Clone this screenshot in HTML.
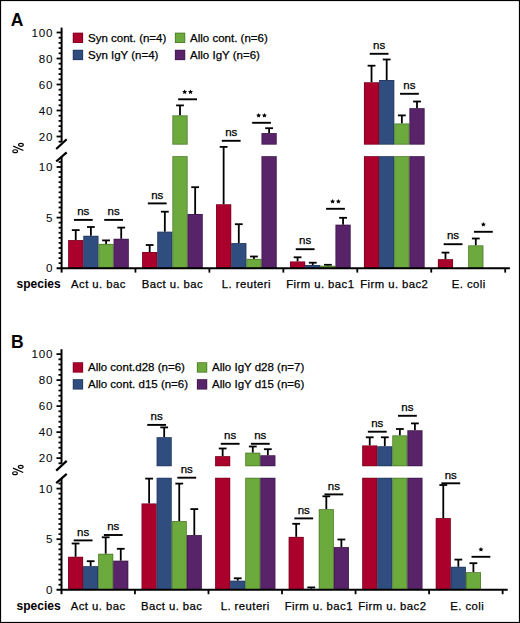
<!DOCTYPE html>
<html><head><meta charset="utf-8"><style>html,body{margin:0;padding:0;background:#fff;width:520px;height:623px;overflow:hidden}svg{display:block}text{font-family:"Liberation Sans",sans-serif;stroke:#000;stroke-width:0.25px;paint-order:stroke}text[font-weight=bold],text.ax{stroke-width:0}</style></head>
<body><svg width="520" height="623" viewBox="0 0 520 623">
<rect x="0" y="0" width="520" height="623" fill="#fff"/>
<line x1="75.73" y1="240.10" x2="75.73" y2="230.10" stroke="#000" stroke-width="1.8"/>
<line x1="71.83" y1="230.10" x2="79.63" y2="230.10" stroke="#000" stroke-width="1.8"/>
<rect x="68.15" y="240.10" width="15.16" height="28.10" fill="#ac002c"/><rect x="68.55" y="240.50" width="14.36" height="27.30" fill="none" stroke="#000" stroke-opacity="0.28" stroke-width="0.8"/>
<line x1="90.89" y1="235.80" x2="90.89" y2="227.00" stroke="#000" stroke-width="1.8"/>
<line x1="86.99" y1="227.00" x2="94.79" y2="227.00" stroke="#000" stroke-width="1.8"/>
<rect x="83.31" y="235.80" width="15.16" height="32.40" fill="#304d80"/><rect x="83.71" y="236.20" width="14.36" height="31.60" fill="none" stroke="#000" stroke-opacity="0.28" stroke-width="0.8"/>
<line x1="106.05" y1="243.90" x2="106.05" y2="240.40" stroke="#000" stroke-width="1.8"/>
<line x1="102.15" y1="240.40" x2="109.95" y2="240.40" stroke="#000" stroke-width="1.8"/>
<rect x="98.47" y="243.90" width="15.16" height="24.30" fill="#6caa3e"/><rect x="98.87" y="244.30" width="14.36" height="23.50" fill="none" stroke="#000" stroke-opacity="0.28" stroke-width="0.8"/>
<line x1="121.21" y1="238.80" x2="121.21" y2="227.60" stroke="#000" stroke-width="1.8"/>
<line x1="117.31" y1="227.60" x2="125.11" y2="227.60" stroke="#000" stroke-width="1.8"/>
<rect x="113.63" y="238.80" width="15.16" height="29.40" fill="#582369"/><rect x="114.03" y="239.20" width="14.36" height="28.60" fill="none" stroke="#000" stroke-opacity="0.28" stroke-width="0.8"/>
<line x1="73.91" y1="219.90" x2="92.71" y2="219.90" stroke="#000" stroke-width="1.9"/>
<text x="83.31" y="215.10" text-anchor="middle" font-size="11.5" font-family="Liberation Sans, sans-serif">ns</text>
<line x1="104.23" y1="219.90" x2="123.03" y2="219.90" stroke="#000" stroke-width="1.9"/>
<text x="113.63" y="215.10" text-anchor="middle" font-size="11.5" font-family="Liberation Sans, sans-serif">ns</text>
<line x1="149.68" y1="252.00" x2="149.68" y2="245.00" stroke="#000" stroke-width="1.8"/>
<line x1="145.78" y1="245.00" x2="153.58" y2="245.00" stroke="#000" stroke-width="1.8"/>
<rect x="142.10" y="252.00" width="15.16" height="16.20" fill="#ac002c"/><rect x="142.50" y="252.40" width="14.36" height="15.40" fill="none" stroke="#000" stroke-opacity="0.28" stroke-width="0.8"/>
<line x1="164.84" y1="231.70" x2="164.84" y2="211.70" stroke="#000" stroke-width="1.8"/>
<line x1="160.94" y1="211.70" x2="168.74" y2="211.70" stroke="#000" stroke-width="1.8"/>
<rect x="157.26" y="231.70" width="15.16" height="36.50" fill="#304d80"/><rect x="157.66" y="232.10" width="14.36" height="35.70" fill="none" stroke="#000" stroke-opacity="0.28" stroke-width="0.8"/>
<line x1="180.00" y1="115.40" x2="180.00" y2="105.40" stroke="#000" stroke-width="1.8"/>
<line x1="176.10" y1="105.40" x2="183.90" y2="105.40" stroke="#000" stroke-width="1.8"/>
<rect x="172.42" y="156.20" width="15.16" height="112.00" fill="#6caa3e"/><rect x="172.82" y="156.60" width="14.36" height="111.20" fill="none" stroke="#000" stroke-opacity="0.28" stroke-width="0.8"/>
<rect x="172.42" y="115.40" width="15.16" height="29.20" fill="#6caa3e"/><rect x="172.82" y="115.80" width="14.36" height="28.40" fill="none" stroke="#000" stroke-opacity="0.28" stroke-width="0.8"/>
<line x1="195.16" y1="214.00" x2="195.16" y2="187.20" stroke="#000" stroke-width="1.8"/>
<line x1="191.26" y1="187.20" x2="199.06" y2="187.20" stroke="#000" stroke-width="1.8"/>
<rect x="187.58" y="214.00" width="15.16" height="54.20" fill="#582369"/><rect x="187.98" y="214.40" width="14.36" height="53.40" fill="none" stroke="#000" stroke-opacity="0.28" stroke-width="0.8"/>
<line x1="147.86" y1="203.40" x2="166.66" y2="203.40" stroke="#000" stroke-width="1.9"/>
<text x="157.26" y="198.60" text-anchor="middle" font-size="11.5" font-family="Liberation Sans, sans-serif">ns</text>
<line x1="178.18" y1="99.30" x2="196.98" y2="99.30" stroke="#000" stroke-width="1.9"/>
<polygon points="184.68,89.40 185.41,90.99 187.15,91.20 185.87,92.39 186.21,94.10 184.68,93.25 183.15,94.10 183.49,92.39 182.21,91.20 183.95,90.99" fill="#000"/>
<polygon points="190.48,89.40 191.21,90.99 192.95,91.20 191.67,92.39 192.01,94.10 190.48,93.25 188.95,94.10 189.29,92.39 188.01,91.20 189.75,90.99" fill="#000"/>
<line x1="223.63" y1="204.30" x2="223.63" y2="146.90" stroke="#000" stroke-width="1.8"/>
<line x1="219.73" y1="146.90" x2="227.53" y2="146.90" stroke="#000" stroke-width="1.8"/>
<rect x="216.05" y="204.30" width="15.16" height="63.90" fill="#ac002c"/><rect x="216.45" y="204.70" width="14.36" height="63.10" fill="none" stroke="#000" stroke-opacity="0.28" stroke-width="0.8"/>
<line x1="238.79" y1="243.10" x2="238.79" y2="224.20" stroke="#000" stroke-width="1.8"/>
<line x1="234.89" y1="224.20" x2="242.69" y2="224.20" stroke="#000" stroke-width="1.8"/>
<rect x="231.21" y="243.10" width="15.16" height="25.10" fill="#304d80"/><rect x="231.61" y="243.50" width="14.36" height="24.30" fill="none" stroke="#000" stroke-opacity="0.28" stroke-width="0.8"/>
<line x1="253.95" y1="258.90" x2="253.95" y2="256.50" stroke="#000" stroke-width="1.8"/>
<line x1="250.05" y1="256.50" x2="257.85" y2="256.50" stroke="#000" stroke-width="1.8"/>
<rect x="246.37" y="258.90" width="15.16" height="9.30" fill="#6caa3e"/><rect x="246.77" y="259.30" width="14.36" height="8.50" fill="none" stroke="#000" stroke-opacity="0.28" stroke-width="0.8"/>
<line x1="269.11" y1="133.10" x2="269.11" y2="128.20" stroke="#000" stroke-width="1.8"/>
<line x1="265.21" y1="128.20" x2="273.01" y2="128.20" stroke="#000" stroke-width="1.8"/>
<rect x="261.53" y="156.20" width="15.16" height="112.00" fill="#582369"/><rect x="261.93" y="156.60" width="14.36" height="111.20" fill="none" stroke="#000" stroke-opacity="0.28" stroke-width="0.8"/>
<rect x="261.53" y="133.10" width="15.16" height="11.50" fill="#582369"/><rect x="261.93" y="133.50" width="14.36" height="10.70" fill="none" stroke="#000" stroke-opacity="0.28" stroke-width="0.8"/>
<line x1="221.81" y1="140.80" x2="240.61" y2="140.80" stroke="#000" stroke-width="1.9"/>
<text x="231.21" y="136.00" text-anchor="middle" font-size="11.5" font-family="Liberation Sans, sans-serif">ns</text>
<line x1="252.13" y1="122.80" x2="270.93" y2="122.80" stroke="#000" stroke-width="1.9"/>
<polygon points="258.63,112.90 259.36,114.49 261.10,114.70 259.82,115.89 260.16,117.60 258.63,116.75 257.10,117.60 257.44,115.89 256.16,114.70 257.90,114.49" fill="#000"/>
<polygon points="264.43,112.90 265.16,114.49 266.90,114.70 265.62,115.89 265.96,117.60 264.43,116.75 262.90,117.60 263.24,115.89 261.96,114.70 263.70,114.49" fill="#000"/>
<line x1="297.58" y1="261.50" x2="297.58" y2="257.30" stroke="#000" stroke-width="1.8"/>
<line x1="293.68" y1="257.30" x2="301.48" y2="257.30" stroke="#000" stroke-width="1.8"/>
<rect x="290.00" y="261.50" width="15.16" height="6.70" fill="#ac002c"/><rect x="290.40" y="261.90" width="14.36" height="5.90" fill="none" stroke="#000" stroke-opacity="0.28" stroke-width="0.8"/>
<line x1="312.74" y1="265.00" x2="312.74" y2="262.70" stroke="#000" stroke-width="1.8"/>
<line x1="308.84" y1="262.70" x2="316.64" y2="262.70" stroke="#000" stroke-width="1.8"/>
<rect x="305.16" y="265.00" width="15.16" height="3.20" fill="#304d80"/><rect x="305.56" y="265.40" width="14.36" height="2.40" fill="none" stroke="#000" stroke-opacity="0.28" stroke-width="0.8"/>
<line x1="327.90" y1="265.80" x2="327.90" y2="264.80" stroke="#000" stroke-width="1.8"/>
<line x1="324.00" y1="264.80" x2="331.80" y2="264.80" stroke="#000" stroke-width="1.8"/>
<rect x="320.32" y="265.80" width="15.16" height="2.40" fill="#6caa3e"/><rect x="320.72" y="266.20" width="14.36" height="1.60" fill="none" stroke="#000" stroke-opacity="0.28" stroke-width="0.8"/>
<line x1="343.06" y1="224.70" x2="343.06" y2="217.80" stroke="#000" stroke-width="1.8"/>
<line x1="339.16" y1="217.80" x2="346.96" y2="217.80" stroke="#000" stroke-width="1.8"/>
<rect x="335.48" y="224.70" width="15.16" height="43.50" fill="#582369"/><rect x="335.88" y="225.10" width="14.36" height="42.70" fill="none" stroke="#000" stroke-opacity="0.28" stroke-width="0.8"/>
<line x1="295.76" y1="249.20" x2="314.56" y2="249.20" stroke="#000" stroke-width="1.9"/>
<text x="305.16" y="244.40" text-anchor="middle" font-size="11.5" font-family="Liberation Sans, sans-serif">ns</text>
<line x1="326.08" y1="208.80" x2="344.88" y2="208.80" stroke="#000" stroke-width="1.9"/>
<polygon points="332.58,198.90 333.31,200.49 335.05,200.70 333.77,201.89 334.11,203.60 332.58,202.75 331.05,203.60 331.39,201.89 330.11,200.70 331.85,200.49" fill="#000"/>
<polygon points="338.38,198.90 339.11,200.49 340.85,200.70 339.57,201.89 339.91,203.60 338.38,202.75 336.85,203.60 337.19,201.89 335.91,200.70 337.65,200.49" fill="#000"/>
<line x1="371.53" y1="82.30" x2="371.53" y2="65.70" stroke="#000" stroke-width="1.8"/>
<line x1="367.63" y1="65.70" x2="375.43" y2="65.70" stroke="#000" stroke-width="1.8"/>
<rect x="363.95" y="156.20" width="15.16" height="112.00" fill="#ac002c"/><rect x="364.35" y="156.60" width="14.36" height="111.20" fill="none" stroke="#000" stroke-opacity="0.28" stroke-width="0.8"/>
<rect x="363.95" y="82.30" width="15.16" height="62.30" fill="#ac002c"/><rect x="364.35" y="82.70" width="14.36" height="61.50" fill="none" stroke="#000" stroke-opacity="0.28" stroke-width="0.8"/>
<line x1="386.69" y1="80.00" x2="386.69" y2="59.50" stroke="#000" stroke-width="1.8"/>
<line x1="382.79" y1="59.50" x2="390.59" y2="59.50" stroke="#000" stroke-width="1.8"/>
<rect x="379.11" y="156.20" width="15.16" height="112.00" fill="#304d80"/><rect x="379.51" y="156.60" width="14.36" height="111.20" fill="none" stroke="#000" stroke-opacity="0.28" stroke-width="0.8"/>
<rect x="379.11" y="80.00" width="15.16" height="64.60" fill="#304d80"/><rect x="379.51" y="80.40" width="14.36" height="63.80" fill="none" stroke="#000" stroke-opacity="0.28" stroke-width="0.8"/>
<line x1="401.85" y1="123.50" x2="401.85" y2="115.40" stroke="#000" stroke-width="1.8"/>
<line x1="397.95" y1="115.40" x2="405.75" y2="115.40" stroke="#000" stroke-width="1.8"/>
<rect x="394.27" y="156.20" width="15.16" height="112.00" fill="#6caa3e"/><rect x="394.67" y="156.60" width="14.36" height="111.20" fill="none" stroke="#000" stroke-opacity="0.28" stroke-width="0.8"/>
<rect x="394.27" y="123.50" width="15.16" height="21.10" fill="#6caa3e"/><rect x="394.67" y="123.90" width="14.36" height="20.30" fill="none" stroke="#000" stroke-opacity="0.28" stroke-width="0.8"/>
<line x1="417.01" y1="108.20" x2="417.01" y2="101.50" stroke="#000" stroke-width="1.8"/>
<line x1="413.11" y1="101.50" x2="420.91" y2="101.50" stroke="#000" stroke-width="1.8"/>
<rect x="409.43" y="156.20" width="15.16" height="112.00" fill="#582369"/><rect x="409.83" y="156.60" width="14.36" height="111.20" fill="none" stroke="#000" stroke-opacity="0.28" stroke-width="0.8"/>
<rect x="409.43" y="108.20" width="15.16" height="36.40" fill="#582369"/><rect x="409.83" y="108.60" width="14.36" height="35.60" fill="none" stroke="#000" stroke-opacity="0.28" stroke-width="0.8"/>
<line x1="369.71" y1="53.80" x2="388.51" y2="53.80" stroke="#000" stroke-width="1.9"/>
<text x="379.11" y="49.00" text-anchor="middle" font-size="11.5" font-family="Liberation Sans, sans-serif">ns</text>
<line x1="400.03" y1="93.80" x2="418.83" y2="93.80" stroke="#000" stroke-width="1.9"/>
<text x="409.43" y="89.00" text-anchor="middle" font-size="11.5" font-family="Liberation Sans, sans-serif">ns</text>
<line x1="445.48" y1="259.20" x2="445.48" y2="252.60" stroke="#000" stroke-width="1.8"/>
<line x1="441.58" y1="252.60" x2="449.38" y2="252.60" stroke="#000" stroke-width="1.8"/>
<rect x="437.90" y="259.20" width="15.16" height="9.00" fill="#ac002c"/><rect x="438.30" y="259.60" width="14.36" height="8.20" fill="none" stroke="#000" stroke-opacity="0.28" stroke-width="0.8"/>
<line x1="475.80" y1="245.40" x2="475.80" y2="238.50" stroke="#000" stroke-width="1.8"/>
<line x1="471.90" y1="238.50" x2="479.70" y2="238.50" stroke="#000" stroke-width="1.8"/>
<rect x="468.22" y="245.40" width="15.16" height="22.80" fill="#6caa3e"/><rect x="468.62" y="245.80" width="14.36" height="22.00" fill="none" stroke="#000" stroke-opacity="0.28" stroke-width="0.8"/>
<line x1="443.66" y1="244.20" x2="462.46" y2="244.20" stroke="#000" stroke-width="1.9"/>
<text x="453.06" y="239.40" text-anchor="middle" font-size="11.5" font-family="Liberation Sans, sans-serif">ns</text>
<line x1="473.98" y1="231.80" x2="492.78" y2="231.80" stroke="#000" stroke-width="1.9"/>
<polygon points="483.38,221.90 484.11,223.49 485.85,223.70 484.57,224.89 484.91,226.60 483.38,225.75 481.85,226.60 482.19,224.89 480.91,223.70 482.65,223.49" fill="#000"/>
<line x1="61.6" y1="27.6" x2="61.6" y2="142.2" stroke="#000" stroke-width="2.0"/>
<line x1="61.6" y1="156.8" x2="61.6" y2="272.59999999999997" stroke="#000" stroke-width="2.0"/>
<line x1="56.6" y1="268.2" x2="509.9" y2="268.2" stroke="#000" stroke-width="2.0"/>
<line x1="135.45" y1="268.2" x2="135.45" y2="272.59999999999997" stroke="#000" stroke-width="1.8"/>
<line x1="209.40" y1="268.2" x2="209.40" y2="272.59999999999997" stroke="#000" stroke-width="1.8"/>
<line x1="283.35" y1="268.2" x2="283.35" y2="272.59999999999997" stroke="#000" stroke-width="1.8"/>
<line x1="357.30" y1="268.2" x2="357.30" y2="272.59999999999997" stroke="#000" stroke-width="1.8"/>
<line x1="431.25" y1="268.2" x2="431.25" y2="272.59999999999997" stroke="#000" stroke-width="1.8"/>
<line x1="505.20" y1="268.2" x2="505.20" y2="272.59999999999997" stroke="#000" stroke-width="1.8"/>
<line x1="58.6" y1="141.70" x2="61.6" y2="141.70" stroke="#000" stroke-width="1.8"/>
<line x1="56.6" y1="136.50" x2="61.6" y2="136.50" stroke="#000" stroke-width="1.8"/>
<text x="53.3" y="140.70" text-anchor="end" font-size="11.6" letter-spacing="0.8" class="ax" font-family="Liberation Sans, sans-serif">20</text>
<line x1="58.6" y1="131.30" x2="61.6" y2="131.30" stroke="#000" stroke-width="1.8"/>
<line x1="58.6" y1="126.10" x2="61.6" y2="126.10" stroke="#000" stroke-width="1.8"/>
<line x1="58.6" y1="120.90" x2="61.6" y2="120.90" stroke="#000" stroke-width="1.8"/>
<line x1="58.6" y1="115.70" x2="61.6" y2="115.70" stroke="#000" stroke-width="1.8"/>
<line x1="56.6" y1="110.50" x2="61.6" y2="110.50" stroke="#000" stroke-width="1.8"/>
<text x="53.3" y="114.70" text-anchor="end" font-size="11.6" letter-spacing="0.8" class="ax" font-family="Liberation Sans, sans-serif">40</text>
<line x1="58.6" y1="105.30" x2="61.6" y2="105.30" stroke="#000" stroke-width="1.8"/>
<line x1="58.6" y1="100.10" x2="61.6" y2="100.10" stroke="#000" stroke-width="1.8"/>
<line x1="58.6" y1="94.90" x2="61.6" y2="94.90" stroke="#000" stroke-width="1.8"/>
<line x1="58.6" y1="89.70" x2="61.6" y2="89.70" stroke="#000" stroke-width="1.8"/>
<line x1="56.6" y1="84.50" x2="61.6" y2="84.50" stroke="#000" stroke-width="1.8"/>
<text x="53.3" y="88.70" text-anchor="end" font-size="11.6" letter-spacing="0.8" class="ax" font-family="Liberation Sans, sans-serif">60</text>
<line x1="58.6" y1="79.30" x2="61.6" y2="79.30" stroke="#000" stroke-width="1.8"/>
<line x1="58.6" y1="74.10" x2="61.6" y2="74.10" stroke="#000" stroke-width="1.8"/>
<line x1="58.6" y1="68.90" x2="61.6" y2="68.90" stroke="#000" stroke-width="1.8"/>
<line x1="58.6" y1="63.70" x2="61.6" y2="63.70" stroke="#000" stroke-width="1.8"/>
<line x1="56.6" y1="58.50" x2="61.6" y2="58.50" stroke="#000" stroke-width="1.8"/>
<text x="53.3" y="62.70" text-anchor="end" font-size="11.6" letter-spacing="0.8" class="ax" font-family="Liberation Sans, sans-serif">80</text>
<line x1="58.6" y1="53.30" x2="61.6" y2="53.30" stroke="#000" stroke-width="1.8"/>
<line x1="58.6" y1="48.10" x2="61.6" y2="48.10" stroke="#000" stroke-width="1.8"/>
<line x1="58.6" y1="42.90" x2="61.6" y2="42.90" stroke="#000" stroke-width="1.8"/>
<line x1="58.6" y1="37.70" x2="61.6" y2="37.70" stroke="#000" stroke-width="1.8"/>
<line x1="56.6" y1="32.50" x2="61.6" y2="32.50" stroke="#000" stroke-width="1.8"/>
<text x="53.3" y="36.70" text-anchor="end" font-size="11.6" letter-spacing="0.8" class="ax" font-family="Liberation Sans, sans-serif">100</text>
<line x1="58.6" y1="263.14" x2="61.6" y2="263.14" stroke="#000" stroke-width="1.8"/>
<line x1="58.6" y1="258.08" x2="61.6" y2="258.08" stroke="#000" stroke-width="1.8"/>
<line x1="58.6" y1="253.02" x2="61.6" y2="253.02" stroke="#000" stroke-width="1.8"/>
<line x1="58.6" y1="247.96" x2="61.6" y2="247.96" stroke="#000" stroke-width="1.8"/>
<line x1="58.6" y1="242.90" x2="61.6" y2="242.90" stroke="#000" stroke-width="1.8"/>
<line x1="58.6" y1="237.84" x2="61.6" y2="237.84" stroke="#000" stroke-width="1.8"/>
<line x1="58.6" y1="232.78" x2="61.6" y2="232.78" stroke="#000" stroke-width="1.8"/>
<line x1="58.6" y1="227.72" x2="61.6" y2="227.72" stroke="#000" stroke-width="1.8"/>
<line x1="58.6" y1="222.66" x2="61.6" y2="222.66" stroke="#000" stroke-width="1.8"/>
<line x1="56.6" y1="217.60" x2="61.6" y2="217.60" stroke="#000" stroke-width="1.8"/>
<text x="53.3" y="221.80" text-anchor="end" font-size="11.6" letter-spacing="0.8" class="ax" font-family="Liberation Sans, sans-serif">5</text>
<line x1="58.6" y1="212.54" x2="61.6" y2="212.54" stroke="#000" stroke-width="1.8"/>
<line x1="58.6" y1="207.48" x2="61.6" y2="207.48" stroke="#000" stroke-width="1.8"/>
<line x1="58.6" y1="202.42" x2="61.6" y2="202.42" stroke="#000" stroke-width="1.8"/>
<line x1="58.6" y1="197.36" x2="61.6" y2="197.36" stroke="#000" stroke-width="1.8"/>
<line x1="58.6" y1="192.30" x2="61.6" y2="192.30" stroke="#000" stroke-width="1.8"/>
<line x1="58.6" y1="187.24" x2="61.6" y2="187.24" stroke="#000" stroke-width="1.8"/>
<line x1="58.6" y1="182.18" x2="61.6" y2="182.18" stroke="#000" stroke-width="1.8"/>
<line x1="58.6" y1="177.12" x2="61.6" y2="177.12" stroke="#000" stroke-width="1.8"/>
<line x1="58.6" y1="172.06" x2="61.6" y2="172.06" stroke="#000" stroke-width="1.8"/>
<line x1="56.6" y1="167.00" x2="61.6" y2="167.00" stroke="#000" stroke-width="1.8"/>
<text x="53.3" y="171.20" text-anchor="end" font-size="11.6" letter-spacing="0.8" class="ax" font-family="Liberation Sans, sans-serif">10</text>
<line x1="58.6" y1="161.94" x2="61.6" y2="161.94" stroke="#000" stroke-width="1.8"/>
<text x="53.3" y="272.40" text-anchor="end" font-size="11.6" letter-spacing="0.8" class="ax" font-family="Liberation Sans, sans-serif">0</text>
<line x1="56.2" y1="149.0" x2="66.7" y2="139.3" stroke="#000" stroke-width="2.2"/>
<line x1="56.2" y1="161.5" x2="66.7" y2="152.3" stroke="#000" stroke-width="2.2"/>
<g fill="none" stroke="#000" stroke-width="1.15"><ellipse cx="20.95" cy="144.85" rx="2.35" ry="1.45"/><ellipse cx="15.20" cy="151.20" rx="2.35" ry="1.45"/><line x1="13.20" y1="146.10" x2="23.40" y2="150.50"/></g>
<text x="10.7" y="26.2" font-size="17.5" font-weight="bold" font-family="Liberation Sans, sans-serif">A</text>
<text x="16.6" y="288.2" font-size="12" font-weight="bold" font-family="Liberation Sans, sans-serif">species</text>
<text x="98.47" y="288.2" text-anchor="middle" font-size="11.3" letter-spacing="0.45" font-family="Liberation Sans, sans-serif">Act u. bac</text>
<text x="172.42" y="288.2" text-anchor="middle" font-size="11.3" letter-spacing="0.45" font-family="Liberation Sans, sans-serif">Bact u. bac</text>
<text x="246.38" y="288.2" text-anchor="middle" font-size="11.3" letter-spacing="0.45" font-family="Liberation Sans, sans-serif">L. reuteri</text>
<text x="320.33" y="288.2" text-anchor="middle" font-size="11.3" letter-spacing="0.45" font-family="Liberation Sans, sans-serif">Firm u. bac1</text>
<text x="394.28" y="288.2" text-anchor="middle" font-size="11.3" letter-spacing="0.45" font-family="Liberation Sans, sans-serif">Firm u. bac2</text>
<text x="468.83" y="288.2" text-anchor="middle" font-size="11.3" letter-spacing="0.45" font-family="Liberation Sans, sans-serif">E. coli</text>
<rect x="72.80" y="32.70" width="10.30" height="10.30" fill="#ac002c"/><rect x="73.20" y="33.10" width="9.50" height="9.50" fill="none" stroke="#000" stroke-opacity="0.28" stroke-width="0.8"/>
<text x="88.0" y="42.0" font-size="11.5" font-family="Liberation Sans, sans-serif">Syn cont. (n=4)</text>
<rect x="72.80" y="49.80" width="10.30" height="10.30" fill="#304d80"/><rect x="73.20" y="50.20" width="9.50" height="9.50" fill="none" stroke="#000" stroke-opacity="0.28" stroke-width="0.8"/>
<text x="88.0" y="59.099999999999994" font-size="11.5" font-family="Liberation Sans, sans-serif">Syn IgY (n=4)</text>
<rect x="174.90" y="32.70" width="10.30" height="10.30" fill="#6caa3e"/><rect x="175.30" y="33.10" width="9.50" height="9.50" fill="none" stroke="#000" stroke-opacity="0.28" stroke-width="0.8"/>
<text x="190.1" y="42.0" font-size="11.5" font-family="Liberation Sans, sans-serif">Allo cont. (n=6)</text>
<rect x="174.90" y="49.80" width="10.30" height="10.30" fill="#582369"/><rect x="175.30" y="50.20" width="9.50" height="9.50" fill="none" stroke="#000" stroke-opacity="0.28" stroke-width="0.8"/>
<text x="190.1" y="59.099999999999994" font-size="11.5" font-family="Liberation Sans, sans-serif">Allo IgY (n=6)</text>
<line x1="75.58" y1="556.80" x2="75.58" y2="543.50" stroke="#000" stroke-width="1.8"/>
<line x1="71.68" y1="543.50" x2="79.48" y2="543.50" stroke="#000" stroke-width="1.8"/>
<rect x="68.05" y="556.80" width="15.06" height="33.00" fill="#ac002c"/><rect x="68.45" y="557.20" width="14.26" height="32.20" fill="none" stroke="#000" stroke-opacity="0.28" stroke-width="0.8"/>
<line x1="90.64" y1="566.20" x2="90.64" y2="561.20" stroke="#000" stroke-width="1.8"/>
<line x1="86.74" y1="561.20" x2="94.54" y2="561.20" stroke="#000" stroke-width="1.8"/>
<rect x="83.11" y="566.20" width="15.06" height="23.60" fill="#304d80"/><rect x="83.51" y="566.60" width="14.26" height="22.80" fill="none" stroke="#000" stroke-opacity="0.28" stroke-width="0.8"/>
<line x1="105.70" y1="553.80" x2="105.70" y2="537.30" stroke="#000" stroke-width="1.8"/>
<line x1="101.80" y1="537.30" x2="109.60" y2="537.30" stroke="#000" stroke-width="1.8"/>
<rect x="98.17" y="553.80" width="15.06" height="36.00" fill="#6caa3e"/><rect x="98.57" y="554.20" width="14.26" height="35.20" fill="none" stroke="#000" stroke-opacity="0.28" stroke-width="0.8"/>
<line x1="120.76" y1="560.70" x2="120.76" y2="548.80" stroke="#000" stroke-width="1.8"/>
<line x1="116.86" y1="548.80" x2="124.66" y2="548.80" stroke="#000" stroke-width="1.8"/>
<rect x="113.23" y="560.70" width="15.06" height="29.10" fill="#582369"/><rect x="113.63" y="561.10" width="14.26" height="28.30" fill="none" stroke="#000" stroke-opacity="0.28" stroke-width="0.8"/>
<line x1="73.71" y1="540.40" x2="92.51" y2="540.40" stroke="#000" stroke-width="1.9"/>
<text x="83.11" y="535.60" text-anchor="middle" font-size="11.5" font-family="Liberation Sans, sans-serif">ns</text>
<line x1="103.83" y1="535.00" x2="122.63" y2="535.00" stroke="#000" stroke-width="1.9"/>
<text x="113.23" y="530.20" text-anchor="middle" font-size="11.5" font-family="Liberation Sans, sans-serif">ns</text>
<line x1="149.12" y1="503.50" x2="149.12" y2="478.60" stroke="#000" stroke-width="1.8"/>
<line x1="145.22" y1="478.60" x2="153.02" y2="478.60" stroke="#000" stroke-width="1.8"/>
<rect x="141.59" y="503.50" width="15.06" height="86.30" fill="#ac002c"/><rect x="141.99" y="503.90" width="14.26" height="85.50" fill="none" stroke="#000" stroke-opacity="0.28" stroke-width="0.8"/>
<line x1="164.18" y1="437.20" x2="164.18" y2="427.40" stroke="#000" stroke-width="1.8"/>
<line x1="160.28" y1="427.40" x2="168.08" y2="427.40" stroke="#000" stroke-width="1.8"/>
<rect x="156.65" y="477.80" width="15.06" height="112.00" fill="#304d80"/><rect x="157.05" y="478.20" width="14.26" height="111.20" fill="none" stroke="#000" stroke-opacity="0.28" stroke-width="0.8"/>
<rect x="156.65" y="437.20" width="15.06" height="29.00" fill="#304d80"/><rect x="157.05" y="437.60" width="14.26" height="28.20" fill="none" stroke="#000" stroke-opacity="0.28" stroke-width="0.8"/>
<line x1="179.24" y1="521.10" x2="179.24" y2="483.60" stroke="#000" stroke-width="1.8"/>
<line x1="175.34" y1="483.60" x2="183.14" y2="483.60" stroke="#000" stroke-width="1.8"/>
<rect x="171.71" y="521.10" width="15.06" height="68.70" fill="#6caa3e"/><rect x="172.11" y="521.50" width="14.26" height="67.90" fill="none" stroke="#000" stroke-opacity="0.28" stroke-width="0.8"/>
<line x1="194.30" y1="535.10" x2="194.30" y2="509.10" stroke="#000" stroke-width="1.8"/>
<line x1="190.40" y1="509.10" x2="198.20" y2="509.10" stroke="#000" stroke-width="1.8"/>
<rect x="186.77" y="535.10" width="15.06" height="54.70" fill="#582369"/><rect x="187.17" y="535.50" width="14.26" height="53.90" fill="none" stroke="#000" stroke-opacity="0.28" stroke-width="0.8"/>
<line x1="147.25" y1="424.90" x2="166.05" y2="424.90" stroke="#000" stroke-width="1.9"/>
<text x="156.65" y="420.10" text-anchor="middle" font-size="11.5" font-family="Liberation Sans, sans-serif">ns</text>
<line x1="177.37" y1="477.70" x2="196.17" y2="477.70" stroke="#000" stroke-width="1.9"/>
<text x="186.77" y="472.90" text-anchor="middle" font-size="11.5" font-family="Liberation Sans, sans-serif">ns</text>
<line x1="222.66" y1="456.20" x2="222.66" y2="448.50" stroke="#000" stroke-width="1.8"/>
<line x1="218.76" y1="448.50" x2="226.56" y2="448.50" stroke="#000" stroke-width="1.8"/>
<rect x="215.13" y="477.80" width="15.06" height="112.00" fill="#ac002c"/><rect x="215.53" y="478.20" width="14.26" height="111.20" fill="none" stroke="#000" stroke-opacity="0.28" stroke-width="0.8"/>
<rect x="215.13" y="456.20" width="15.06" height="10.00" fill="#ac002c"/><rect x="215.53" y="456.60" width="14.26" height="9.20" fill="none" stroke="#000" stroke-opacity="0.28" stroke-width="0.8"/>
<line x1="237.72" y1="580.70" x2="237.72" y2="578.30" stroke="#000" stroke-width="1.8"/>
<line x1="233.82" y1="578.30" x2="241.62" y2="578.30" stroke="#000" stroke-width="1.8"/>
<rect x="230.19" y="580.70" width="15.06" height="9.10" fill="#304d80"/><rect x="230.59" y="581.10" width="14.26" height="8.30" fill="none" stroke="#000" stroke-opacity="0.28" stroke-width="0.8"/>
<line x1="252.78" y1="452.70" x2="252.78" y2="446.50" stroke="#000" stroke-width="1.8"/>
<line x1="248.88" y1="446.50" x2="256.68" y2="446.50" stroke="#000" stroke-width="1.8"/>
<rect x="245.25" y="477.80" width="15.06" height="112.00" fill="#6caa3e"/><rect x="245.65" y="478.20" width="14.26" height="111.20" fill="none" stroke="#000" stroke-opacity="0.28" stroke-width="0.8"/>
<rect x="245.25" y="452.70" width="15.06" height="13.50" fill="#6caa3e"/><rect x="245.65" y="453.10" width="14.26" height="12.70" fill="none" stroke="#000" stroke-opacity="0.28" stroke-width="0.8"/>
<line x1="267.84" y1="455.30" x2="267.84" y2="449.20" stroke="#000" stroke-width="1.8"/>
<line x1="263.94" y1="449.20" x2="271.74" y2="449.20" stroke="#000" stroke-width="1.8"/>
<rect x="260.31" y="477.80" width="15.06" height="112.00" fill="#582369"/><rect x="260.71" y="478.20" width="14.26" height="111.20" fill="none" stroke="#000" stroke-opacity="0.28" stroke-width="0.8"/>
<rect x="260.31" y="455.30" width="15.06" height="10.90" fill="#582369"/><rect x="260.71" y="455.70" width="14.26" height="10.10" fill="none" stroke="#000" stroke-opacity="0.28" stroke-width="0.8"/>
<line x1="220.79" y1="443.80" x2="239.59" y2="443.80" stroke="#000" stroke-width="1.9"/>
<text x="230.19" y="439.00" text-anchor="middle" font-size="11.5" font-family="Liberation Sans, sans-serif">ns</text>
<line x1="250.91" y1="443.80" x2="269.71" y2="443.80" stroke="#000" stroke-width="1.9"/>
<text x="260.31" y="439.00" text-anchor="middle" font-size="11.5" font-family="Liberation Sans, sans-serif">ns</text>
<line x1="296.20" y1="536.90" x2="296.20" y2="523.80" stroke="#000" stroke-width="1.8"/>
<line x1="292.30" y1="523.80" x2="300.10" y2="523.80" stroke="#000" stroke-width="1.8"/>
<rect x="288.67" y="536.90" width="15.06" height="52.90" fill="#ac002c"/><rect x="289.07" y="537.30" width="14.26" height="52.10" fill="none" stroke="#000" stroke-opacity="0.28" stroke-width="0.8"/>
<line x1="311.26" y1="588.80" x2="311.26" y2="587.40" stroke="#000" stroke-width="1.8"/>
<line x1="307.36" y1="587.40" x2="315.16" y2="587.40" stroke="#000" stroke-width="1.8"/>
<rect x="303.73" y="588.80" width="15.06" height="1.00" fill="#304d80"/>
<line x1="326.32" y1="509.20" x2="326.32" y2="496.30" stroke="#000" stroke-width="1.8"/>
<line x1="322.42" y1="496.30" x2="330.22" y2="496.30" stroke="#000" stroke-width="1.8"/>
<rect x="318.79" y="509.20" width="15.06" height="80.60" fill="#6caa3e"/><rect x="319.19" y="509.60" width="14.26" height="79.80" fill="none" stroke="#000" stroke-opacity="0.28" stroke-width="0.8"/>
<line x1="341.38" y1="547.10" x2="341.38" y2="539.50" stroke="#000" stroke-width="1.8"/>
<line x1="337.48" y1="539.50" x2="345.28" y2="539.50" stroke="#000" stroke-width="1.8"/>
<rect x="333.85" y="547.10" width="15.06" height="42.70" fill="#582369"/><rect x="334.25" y="547.50" width="14.26" height="41.90" fill="none" stroke="#000" stroke-opacity="0.28" stroke-width="0.8"/>
<line x1="294.33" y1="518.40" x2="313.13" y2="518.40" stroke="#000" stroke-width="1.9"/>
<text x="303.73" y="513.60" text-anchor="middle" font-size="11.5" font-family="Liberation Sans, sans-serif">ns</text>
<line x1="324.45" y1="494.40" x2="343.25" y2="494.40" stroke="#000" stroke-width="1.9"/>
<text x="333.85" y="489.60" text-anchor="middle" font-size="11.5" font-family="Liberation Sans, sans-serif">ns</text>
<line x1="369.74" y1="445.50" x2="369.74" y2="437.30" stroke="#000" stroke-width="1.8"/>
<line x1="365.84" y1="437.30" x2="373.64" y2="437.30" stroke="#000" stroke-width="1.8"/>
<rect x="362.21" y="477.80" width="15.06" height="112.00" fill="#ac002c"/><rect x="362.61" y="478.20" width="14.26" height="111.20" fill="none" stroke="#000" stroke-opacity="0.28" stroke-width="0.8"/>
<rect x="362.21" y="445.50" width="15.06" height="20.70" fill="#ac002c"/><rect x="362.61" y="445.90" width="14.26" height="19.90" fill="none" stroke="#000" stroke-opacity="0.28" stroke-width="0.8"/>
<line x1="384.80" y1="446.30" x2="384.80" y2="437.30" stroke="#000" stroke-width="1.8"/>
<line x1="380.90" y1="437.30" x2="388.70" y2="437.30" stroke="#000" stroke-width="1.8"/>
<rect x="377.27" y="477.80" width="15.06" height="112.00" fill="#304d80"/><rect x="377.67" y="478.20" width="14.26" height="111.20" fill="none" stroke="#000" stroke-opacity="0.28" stroke-width="0.8"/>
<rect x="377.27" y="446.30" width="15.06" height="19.90" fill="#304d80"/><rect x="377.67" y="446.70" width="14.26" height="19.10" fill="none" stroke="#000" stroke-opacity="0.28" stroke-width="0.8"/>
<line x1="399.86" y1="435.40" x2="399.86" y2="429.00" stroke="#000" stroke-width="1.8"/>
<line x1="395.96" y1="429.00" x2="403.76" y2="429.00" stroke="#000" stroke-width="1.8"/>
<rect x="392.33" y="477.80" width="15.06" height="112.00" fill="#6caa3e"/><rect x="392.73" y="478.20" width="14.26" height="111.20" fill="none" stroke="#000" stroke-opacity="0.28" stroke-width="0.8"/>
<rect x="392.33" y="435.40" width="15.06" height="30.80" fill="#6caa3e"/><rect x="392.73" y="435.80" width="14.26" height="30.00" fill="none" stroke="#000" stroke-opacity="0.28" stroke-width="0.8"/>
<line x1="414.92" y1="430.30" x2="414.92" y2="423.40" stroke="#000" stroke-width="1.8"/>
<line x1="411.02" y1="423.40" x2="418.82" y2="423.40" stroke="#000" stroke-width="1.8"/>
<rect x="407.39" y="477.80" width="15.06" height="112.00" fill="#582369"/><rect x="407.79" y="478.20" width="14.26" height="111.20" fill="none" stroke="#000" stroke-opacity="0.28" stroke-width="0.8"/>
<rect x="407.39" y="430.30" width="15.06" height="35.90" fill="#582369"/><rect x="407.79" y="430.70" width="14.26" height="35.10" fill="none" stroke="#000" stroke-opacity="0.28" stroke-width="0.8"/>
<line x1="367.87" y1="431.70" x2="386.67" y2="431.70" stroke="#000" stroke-width="1.9"/>
<text x="377.27" y="426.90" text-anchor="middle" font-size="11.5" font-family="Liberation Sans, sans-serif">ns</text>
<line x1="397.99" y1="415.80" x2="416.79" y2="415.80" stroke="#000" stroke-width="1.9"/>
<text x="407.39" y="411.00" text-anchor="middle" font-size="11.5" font-family="Liberation Sans, sans-serif">ns</text>
<line x1="443.28" y1="518.10" x2="443.28" y2="485.00" stroke="#000" stroke-width="1.8"/>
<line x1="439.38" y1="485.00" x2="447.18" y2="485.00" stroke="#000" stroke-width="1.8"/>
<rect x="435.75" y="518.10" width="15.06" height="71.70" fill="#ac002c"/><rect x="436.15" y="518.50" width="14.26" height="70.90" fill="none" stroke="#000" stroke-opacity="0.28" stroke-width="0.8"/>
<line x1="458.34" y1="566.80" x2="458.34" y2="559.60" stroke="#000" stroke-width="1.8"/>
<line x1="454.44" y1="559.60" x2="462.24" y2="559.60" stroke="#000" stroke-width="1.8"/>
<rect x="450.81" y="566.80" width="15.06" height="23.00" fill="#304d80"/><rect x="451.21" y="567.20" width="14.26" height="22.20" fill="none" stroke="#000" stroke-opacity="0.28" stroke-width="0.8"/>
<line x1="473.40" y1="572.20" x2="473.40" y2="563.20" stroke="#000" stroke-width="1.8"/>
<line x1="469.50" y1="563.20" x2="477.30" y2="563.20" stroke="#000" stroke-width="1.8"/>
<rect x="465.87" y="572.20" width="15.06" height="17.60" fill="#6caa3e"/><rect x="466.27" y="572.60" width="14.26" height="16.80" fill="none" stroke="#000" stroke-opacity="0.28" stroke-width="0.8"/>
<line x1="441.41" y1="483.30" x2="460.21" y2="483.30" stroke="#000" stroke-width="1.9"/>
<text x="450.81" y="478.50" text-anchor="middle" font-size="11.5" font-family="Liberation Sans, sans-serif">ns</text>
<line x1="471.53" y1="556.80" x2="490.33" y2="556.80" stroke="#000" stroke-width="1.9"/>
<polygon points="480.93,546.90 481.66,548.49 483.40,548.70 482.12,549.89 482.46,551.60 480.93,550.75 479.40,551.60 479.74,549.89 478.46,548.70 480.20,548.49" fill="#000"/>
<line x1="61.5" y1="349.20000000000005" x2="61.5" y2="463.8" stroke="#000" stroke-width="2.0"/>
<line x1="61.5" y1="478.40000000000003" x2="61.5" y2="594.1999999999999" stroke="#000" stroke-width="2.0"/>
<line x1="56.5" y1="589.8" x2="507.7" y2="589.8" stroke="#000" stroke-width="2.0"/>
<line x1="134.94" y1="589.8" x2="134.94" y2="594.1999999999999" stroke="#000" stroke-width="1.8"/>
<line x1="208.48" y1="589.8" x2="208.48" y2="594.1999999999999" stroke="#000" stroke-width="1.8"/>
<line x1="282.02" y1="589.8" x2="282.02" y2="594.1999999999999" stroke="#000" stroke-width="1.8"/>
<line x1="355.56" y1="589.8" x2="355.56" y2="594.1999999999999" stroke="#000" stroke-width="1.8"/>
<line x1="429.10" y1="589.8" x2="429.10" y2="594.1999999999999" stroke="#000" stroke-width="1.8"/>
<line x1="502.64" y1="589.8" x2="502.64" y2="594.1999999999999" stroke="#000" stroke-width="1.8"/>
<line x1="58.5" y1="463.30" x2="61.5" y2="463.30" stroke="#000" stroke-width="1.8"/>
<line x1="56.5" y1="458.10" x2="61.5" y2="458.10" stroke="#000" stroke-width="1.8"/>
<text x="53.3" y="462.30" text-anchor="end" font-size="11.6" letter-spacing="0.8" class="ax" font-family="Liberation Sans, sans-serif">20</text>
<line x1="58.5" y1="452.90" x2="61.5" y2="452.90" stroke="#000" stroke-width="1.8"/>
<line x1="58.5" y1="447.70" x2="61.5" y2="447.70" stroke="#000" stroke-width="1.8"/>
<line x1="58.5" y1="442.50" x2="61.5" y2="442.50" stroke="#000" stroke-width="1.8"/>
<line x1="58.5" y1="437.30" x2="61.5" y2="437.30" stroke="#000" stroke-width="1.8"/>
<line x1="56.5" y1="432.10" x2="61.5" y2="432.10" stroke="#000" stroke-width="1.8"/>
<text x="53.3" y="436.30" text-anchor="end" font-size="11.6" letter-spacing="0.8" class="ax" font-family="Liberation Sans, sans-serif">40</text>
<line x1="58.5" y1="426.90" x2="61.5" y2="426.90" stroke="#000" stroke-width="1.8"/>
<line x1="58.5" y1="421.70" x2="61.5" y2="421.70" stroke="#000" stroke-width="1.8"/>
<line x1="58.5" y1="416.50" x2="61.5" y2="416.50" stroke="#000" stroke-width="1.8"/>
<line x1="58.5" y1="411.30" x2="61.5" y2="411.30" stroke="#000" stroke-width="1.8"/>
<line x1="56.5" y1="406.10" x2="61.5" y2="406.10" stroke="#000" stroke-width="1.8"/>
<text x="53.3" y="410.30" text-anchor="end" font-size="11.6" letter-spacing="0.8" class="ax" font-family="Liberation Sans, sans-serif">60</text>
<line x1="58.5" y1="400.90" x2="61.5" y2="400.90" stroke="#000" stroke-width="1.8"/>
<line x1="58.5" y1="395.70" x2="61.5" y2="395.70" stroke="#000" stroke-width="1.8"/>
<line x1="58.5" y1="390.50" x2="61.5" y2="390.50" stroke="#000" stroke-width="1.8"/>
<line x1="58.5" y1="385.30" x2="61.5" y2="385.30" stroke="#000" stroke-width="1.8"/>
<line x1="56.5" y1="380.10" x2="61.5" y2="380.10" stroke="#000" stroke-width="1.8"/>
<text x="53.3" y="384.30" text-anchor="end" font-size="11.6" letter-spacing="0.8" class="ax" font-family="Liberation Sans, sans-serif">80</text>
<line x1="58.5" y1="374.90" x2="61.5" y2="374.90" stroke="#000" stroke-width="1.8"/>
<line x1="58.5" y1="369.70" x2="61.5" y2="369.70" stroke="#000" stroke-width="1.8"/>
<line x1="58.5" y1="364.50" x2="61.5" y2="364.50" stroke="#000" stroke-width="1.8"/>
<line x1="58.5" y1="359.30" x2="61.5" y2="359.30" stroke="#000" stroke-width="1.8"/>
<line x1="56.5" y1="354.10" x2="61.5" y2="354.10" stroke="#000" stroke-width="1.8"/>
<text x="53.3" y="358.30" text-anchor="end" font-size="11.6" letter-spacing="0.8" class="ax" font-family="Liberation Sans, sans-serif">100</text>
<line x1="58.5" y1="584.74" x2="61.5" y2="584.74" stroke="#000" stroke-width="1.8"/>
<line x1="58.5" y1="579.68" x2="61.5" y2="579.68" stroke="#000" stroke-width="1.8"/>
<line x1="58.5" y1="574.62" x2="61.5" y2="574.62" stroke="#000" stroke-width="1.8"/>
<line x1="58.5" y1="569.56" x2="61.5" y2="569.56" stroke="#000" stroke-width="1.8"/>
<line x1="58.5" y1="564.50" x2="61.5" y2="564.50" stroke="#000" stroke-width="1.8"/>
<line x1="58.5" y1="559.44" x2="61.5" y2="559.44" stroke="#000" stroke-width="1.8"/>
<line x1="58.5" y1="554.38" x2="61.5" y2="554.38" stroke="#000" stroke-width="1.8"/>
<line x1="58.5" y1="549.32" x2="61.5" y2="549.32" stroke="#000" stroke-width="1.8"/>
<line x1="58.5" y1="544.26" x2="61.5" y2="544.26" stroke="#000" stroke-width="1.8"/>
<line x1="56.5" y1="539.20" x2="61.5" y2="539.20" stroke="#000" stroke-width="1.8"/>
<text x="53.3" y="543.40" text-anchor="end" font-size="11.6" letter-spacing="0.8" class="ax" font-family="Liberation Sans, sans-serif">5</text>
<line x1="58.5" y1="534.14" x2="61.5" y2="534.14" stroke="#000" stroke-width="1.8"/>
<line x1="58.5" y1="529.08" x2="61.5" y2="529.08" stroke="#000" stroke-width="1.8"/>
<line x1="58.5" y1="524.02" x2="61.5" y2="524.02" stroke="#000" stroke-width="1.8"/>
<line x1="58.5" y1="518.96" x2="61.5" y2="518.96" stroke="#000" stroke-width="1.8"/>
<line x1="58.5" y1="513.90" x2="61.5" y2="513.90" stroke="#000" stroke-width="1.8"/>
<line x1="58.5" y1="508.84" x2="61.5" y2="508.84" stroke="#000" stroke-width="1.8"/>
<line x1="58.5" y1="503.78" x2="61.5" y2="503.78" stroke="#000" stroke-width="1.8"/>
<line x1="58.5" y1="498.72" x2="61.5" y2="498.72" stroke="#000" stroke-width="1.8"/>
<line x1="58.5" y1="493.66" x2="61.5" y2="493.66" stroke="#000" stroke-width="1.8"/>
<line x1="56.5" y1="488.60" x2="61.5" y2="488.60" stroke="#000" stroke-width="1.8"/>
<text x="53.3" y="492.80" text-anchor="end" font-size="11.6" letter-spacing="0.8" class="ax" font-family="Liberation Sans, sans-serif">10</text>
<line x1="58.5" y1="483.54" x2="61.5" y2="483.54" stroke="#000" stroke-width="1.8"/>
<text x="53.3" y="594.00" text-anchor="end" font-size="11.6" letter-spacing="0.8" class="ax" font-family="Liberation Sans, sans-serif">0</text>
<line x1="56.2" y1="470.6" x2="66.7" y2="460.90000000000003" stroke="#000" stroke-width="2.2"/>
<line x1="56.2" y1="483.1" x2="66.7" y2="473.90000000000003" stroke="#000" stroke-width="2.2"/>
<g fill="none" stroke="#000" stroke-width="1.15"><ellipse cx="20.75" cy="466.85" rx="2.35" ry="1.45"/><ellipse cx="15.00" cy="473.20" rx="2.35" ry="1.45"/><line x1="13.00" y1="468.10" x2="23.20" y2="472.50"/></g>
<text x="10.9" y="348.40000000000003" font-size="17.5" font-weight="bold" font-family="Liberation Sans, sans-serif">B</text>
<text x="16.6" y="609.8" font-size="12" font-weight="bold" font-family="Liberation Sans, sans-serif">species</text>
<text x="98.17" y="609.8" text-anchor="middle" font-size="11.3" letter-spacing="0.45" font-family="Liberation Sans, sans-serif">Act u. bac</text>
<text x="171.71" y="609.8" text-anchor="middle" font-size="11.3" letter-spacing="0.45" font-family="Liberation Sans, sans-serif">Bact u. bac</text>
<text x="245.25" y="609.8" text-anchor="middle" font-size="11.3" letter-spacing="0.45" font-family="Liberation Sans, sans-serif">L. reuteri</text>
<text x="318.79" y="609.8" text-anchor="middle" font-size="11.3" letter-spacing="0.45" font-family="Liberation Sans, sans-serif">Firm u. bac1</text>
<text x="392.33" y="609.8" text-anchor="middle" font-size="11.3" letter-spacing="0.45" font-family="Liberation Sans, sans-serif">Firm u. bac2</text>
<text x="467.27" y="609.8" text-anchor="middle" font-size="11.3" letter-spacing="0.45" font-family="Liberation Sans, sans-serif">E. coli</text>
<rect x="72.80" y="362.30" width="10.30" height="10.30" fill="#ac002c"/><rect x="73.20" y="362.70" width="9.50" height="9.50" fill="none" stroke="#000" stroke-opacity="0.28" stroke-width="0.8"/>
<text x="88.0" y="371.1" font-size="11.5" font-family="Liberation Sans, sans-serif">Allo cont.d28 (n=6)</text>
<rect x="72.80" y="379.20" width="10.30" height="10.30" fill="#304d80"/><rect x="73.20" y="379.60" width="9.50" height="9.50" fill="none" stroke="#000" stroke-opacity="0.28" stroke-width="0.8"/>
<text x="88.0" y="388.0" font-size="11.5" font-family="Liberation Sans, sans-serif">Allo cont. d15 (n=6)</text>
<rect x="196.90" y="362.30" width="10.30" height="10.30" fill="#6caa3e"/><rect x="197.30" y="362.70" width="9.50" height="9.50" fill="none" stroke="#000" stroke-opacity="0.28" stroke-width="0.8"/>
<text x="212.1" y="371.1" font-size="11.5" font-family="Liberation Sans, sans-serif">Allo IgY d28 (n=7)</text>
<rect x="196.90" y="379.20" width="10.30" height="10.30" fill="#582369"/><rect x="197.30" y="379.60" width="9.50" height="9.50" fill="none" stroke="#000" stroke-opacity="0.28" stroke-width="0.8"/>
<text x="212.1" y="388.0" font-size="11.5" font-family="Liberation Sans, sans-serif">Allo IgY d15 (n=6)</text>
<rect x="0.5" y="0.5" width="519" height="622" fill="none" stroke="#000" stroke-width="1.2"/>
</svg></body></html>
